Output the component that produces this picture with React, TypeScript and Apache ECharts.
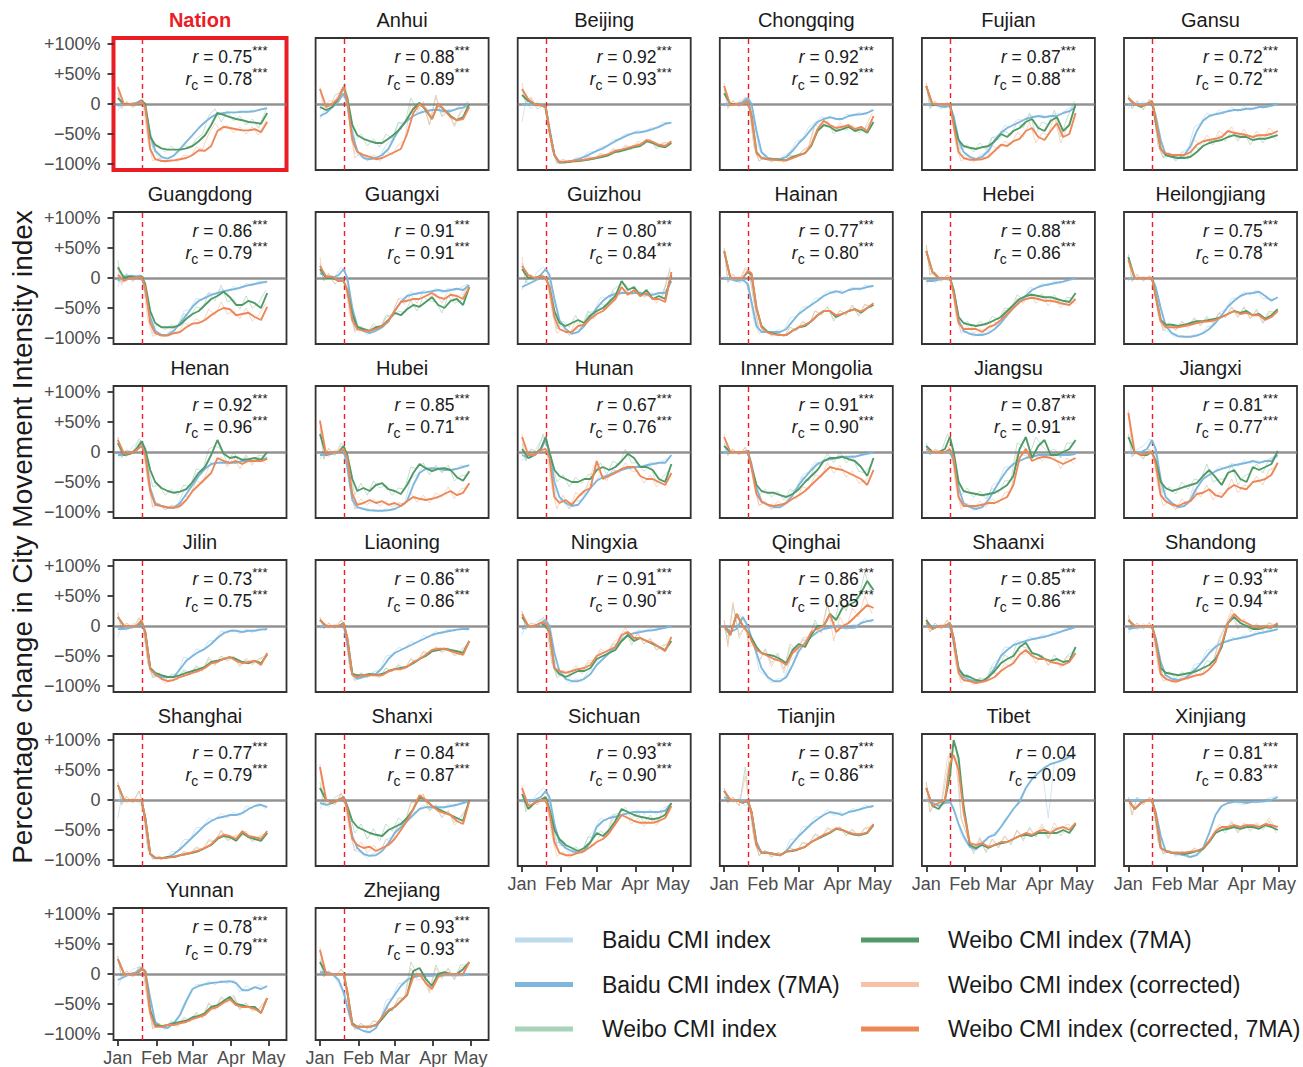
import React, { useEffect, useRef } from "react";
import * as echarts from "echarts";

// ---------- data ----------
const days = [0, 5, 10, 15, 19, 22, 26, 30, 35, 40, 45, 50, 55, 60, 65, 70, 75, 80, 85, 90, 95, 100, 105, 110, 115, 120];
const rawDays = [0, 3, 7, 12, 17, 20, 24, 28, 33, 38, 43, 48, 53, 58, 63, 68, 73, 78, 83, 88, 93, 98, 103, 108, 113, 119];
const monthTicks = [0, 31, 60, 91, 121];
const monthLabels = ["Jan", "Feb", "Mar", "Apr", "May"];
const yTicks = [-100, -50, 0, 50, 100];
const yTickLabels = ["\u2212100%", "\u221250%", "0", "+50%", "+100%"];
const lockdownDay = 19.5;

const provinces = [
  "Nation", "Anhui", "Beijing", "Chongqing", "Fujian", "Gansu",
  "Guangdong", "Guangxi", "Guizhou", "Hainan", "Hebei", "Heilongjiang",
  "Henan", "Hubei", "Hunan", "Inner Mongolia", "Jiangsu", "Jiangxi",
  "Jilin", "Liaoning", "Ningxia", "Qinghai", "Shaanxi", "Shandong",
  "Shanghai", "Shanxi", "Sichuan", "Tianjin", "Tibet", "Xinjiang",
  "Yunnan", "Zhejiang",
];
const rValues = ["0.75", "0.88", "0.92", "0.92", "0.87", "0.72", "0.86", "0.91", "0.80", "0.77", "0.88", "0.75", "0.92", "0.85", "0.67", "0.91", "0.87", "0.81", "0.73", "0.86", "0.91", "0.86", "0.85", "0.93", "0.77", "0.84", "0.93", "0.87", "0.04", "0.81", "0.78", "0.93"];
const rcValues = ["0.78", "0.89", "0.93", "0.92", "0.88", "0.72", "0.79", "0.91", "0.84", "0.80", "0.86", "0.78", "0.96", "0.71", "0.76", "0.90", "0.91", "0.77", "0.75", "0.86", "0.90", "0.85", "0.86", "0.94", "0.79", "0.87", "0.90", "0.86", "0.09", "0.83", "0.79", "0.93"];
const significant = provinces.map((p) => p !== "Tibet");

const seriesNames = [
  "Baidu CMI index",
  "Baidu CMI index (7MA)",
  "Weibo CMI index",
  "Weibo CMI index (7MA)",
  "Weibo CMI index (corrected)",
  "Weibo CMI index (corrected, 7MA)",
];

const baidu7ma: number[][] = [
  [-3,0,0,2,6,-5,-50,-78,-88,-91,-86,-75,-63,-52,-40,-30,-22,-17,-15,-14,-14,-13,-13,-12,-9,-7],
  [-20,-15,-5,5,18,0,-50,-78,-90,-92,-90,-85,-75,-55,-38,-28,-20,-15,-12,-10,-10,-12,-12,-8,-6,0],
  [0,0,0,0,-5,-40,-85,-98,-97,-95,-92,-88,-83,-78,-74,-68,-62,-57,-52,-48,-47,-45,-42,-38,-33,-31],
  [0,0,0,3,10,0,-45,-80,-90,-92,-92,-88,-78,-65,-55,-42,-30,-25,-22,-25,-25,-20,-18,-17,-15,-10],
  [0,0,-3,-5,-3,-20,-60,-80,-88,-92,-88,-78,-60,-48,-40,-35,-30,-25,-22,-20,-22,-20,-20,-15,-12,-5],
  [0,0,0,0,3,-20,-60,-85,-88,-90,-85,-70,-45,-28,-20,-17,-15,-12,-10,-10,-8,-8,-5,-5,-3,0],
  [-5,3,3,3,2,-20,-65,-88,-95,-95,-88,-75,-62,-48,-38,-33,-28,-25,-22,-20,-18,-15,-12,-10,-8,-6],
  [8,3,0,5,15,0,-50,-80,-88,-92,-88,-82,-72,-55,-40,-30,-27,-25,-24,-22,-20,-22,-20,-18,-20,-12],
  [-15,-10,-5,5,15,5,-35,-70,-85,-93,-90,-80,-65,-50,-38,-30,-27,-25,-25,-25,-25,-28,-28,-25,-25,-5],
  [0,-2,-5,-3,-10,-40,-80,-90,-90,-90,-90,-85,-72,-60,-52,-45,-38,-30,-25,-22,-25,-20,-18,-18,-15,-13],
  [-5,-5,-3,0,0,-20,-70,-88,-93,-95,-95,-92,-85,-75,-62,-50,-40,-30,-20,-15,-12,-10,-8,-6,-3,0],
  [0,0,0,0,0,-15,-50,-80,-92,-97,-98,-98,-96,-92,-85,-75,-62,-48,-38,-30,-26,-25,-23,-30,-38,-32],
  [-5,-5,-3,5,15,0,-60,-85,-90,-93,-93,-85,-70,-55,-40,-28,-20,-18,-18,-18,-18,-15,-15,-15,-13,-10],
  [-5,-5,-3,0,3,-25,-80,-92,-95,-97,-98,-98,-97,-95,-90,-82,-55,-35,-28,-27,-28,-30,-30,-28,-25,-22],
  [-5,-10,-5,5,20,0,-50,-75,-85,-90,-88,-75,-60,-48,-42,-38,-33,-30,-27,-25,-25,-22,-20,-18,-18,-5],
  [0,0,0,0,2,-20,-60,-82,-88,-92,-92,-85,-72,-55,-42,-30,-20,-15,-12,-10,-8,-8,-8,-5,-3,-1],
  [0,0,0,0,0,-15,-60,-85,-92,-95,-92,-80,-62,-45,-30,-20,-15,-10,-8,-5,-5,-5,-5,-5,-5,-3],
  [0,0,0,5,20,5,-45,-75,-85,-92,-90,-80,-60,-45,-38,-32,-28,-25,-22,-20,-18,-15,-18,-15,-15,-5],
  [-5,-5,-3,0,3,-10,-70,-82,-85,-85,-85,-72,-58,-50,-43,-38,-30,-20,-12,-8,-8,-10,-8,-8,-6,-5],
  [0,0,0,0,3,-30,-80,-88,-85,-82,-80,-70,-55,-45,-40,-35,-30,-25,-20,-15,-12,-10,-8,-6,-5,-5],
  [-5,0,0,5,10,0,-45,-75,-88,-92,-92,-88,-80,-65,-55,-45,-35,-25,-15,-12,-10,-8,-7,-5,-3,0],
  [0,-10,-5,15,0,-20,-45,-70,-85,-92,-92,-85,-65,-42,-28,-18,-10,-5,-3,0,-3,-3,-3,5,8,10],
  [0,0,0,0,0,-25,-70,-85,-90,-92,-92,-85,-70,-50,-40,-32,-28,-25,-22,-20,-18,-15,-12,-8,-5,-2],
  [-5,-3,-2,0,0,-20,-60,-82,-88,-90,-88,-80,-70,-58,-45,-35,-28,-25,-22,-20,-18,-15,-12,-10,-8,-5],
  [0,0,0,0,-3,-30,-90,-97,-97,-96,-90,-82,-72,-62,-52,-42,-35,-30,-28,-25,-25,-22,-15,-10,-8,-12],
  [-5,-8,-5,0,5,-15,-60,-80,-90,-93,-92,-85,-72,-55,-45,-35,-25,-15,-12,-12,-12,-12,-10,-8,-5,-2],
  [0,0,0,5,15,5,-40,-70,-80,-85,-88,-85,-70,-45,-35,-30,-28,-25,-22,-20,-20,-20,-20,-20,-18,-5],
  [5,0,0,0,-5,-20,-70,-88,-88,-90,-92,-85,-72,-60,-50,-40,-32,-25,-20,-22,-25,-20,-18,-15,-12,-10],
  [0,-5,-10,-5,-3,-15,-40,-60,-78,-82,-72,-62,-58,-45,-30,-15,-3,20,35,45,54,60,63,67,72,76],
  [0,0,0,0,0,-20,-60,-85,-88,-90,-92,-95,-92,-80,-55,-25,-10,-5,-3,-3,-5,-3,-3,-2,0,5],
  [-10,-5,0,3,10,5,-40,-80,-88,-90,-82,-68,-45,-25,-20,-17,-15,-14,-13,-12,-15,-27,-27,-22,-25,-20],
  [3,3,0,-10,-30,-55,-85,-90,-95,-97,-90,-70,-50,-35,-20,-10,-5,-3,-3,-3,-2,-2,-2,-2,-2,0],
];

const weibo7ma: number[][] = [
  [10,0,0,0,6,0,-55,-68,-74,-76,-76,-76,-74,-70,-62,-52,-35,-15,-18,-22,-25,-27,-30,-31,-33,-15],
  [-5,-10,-5,10,28,10,-35,-52,-58,-62,-65,-65,-58,-50,-40,-25,-8,2,-10,-25,0,-10,-20,-27,-22,0],
  [15,5,0,-2,-5,-45,-85,-97,-97,-96,-95,-94,-92,-90,-88,-85,-80,-78,-75,-72,-70,-62,-65,-70,-72,-65],
  [18,0,0,0,5,-20,-80,-90,-92,-92,-93,-94,-88,-85,-82,-70,-45,-35,-38,-45,-42,-38,-45,-42,-48,-30],
  [30,-2,0,0,0,-30,-60,-70,-73,-75,-72,-70,-62,-50,-55,-45,-40,-30,-25,-40,-45,-28,-22,-45,-35,0],
  [10,0,-5,0,5,-30,-75,-85,-88,-90,-90,-88,-80,-70,-65,-62,-60,-55,-52,-55,-55,-60,-58,-58,-55,-52],
  [18,0,3,0,3,-10,-55,-75,-82,-82,-82,-78,-68,-60,-55,-45,-35,-30,-23,-32,-45,-45,-38,-42,-50,-25],
  [15,0,0,-5,-5,-20,-60,-82,-85,-88,-82,-80,-70,-58,-62,-52,-45,-48,-40,-32,-45,-50,-38,-35,-45,-15],
  [15,0,0,3,0,-15,-55,-75,-80,-75,-70,-75,-62,-55,-50,-40,-30,-5,-20,-15,-30,-20,-35,-30,-35,5],
  [45,0,0,0,10,5,-50,-80,-90,-93,-95,-95,-88,-82,-80,-72,-62,-55,-55,-65,-60,-55,-52,-58,-50,-45],
  [45,10,0,0,0,-20,-65,-75,-78,-80,-78,-75,-70,-65,-55,-45,-35,-30,-28,-30,-32,-32,-35,-38,-40,-25],
  [35,0,0,0,0,-30,-70,-78,-78,-80,-78,-75,-72,-72,-70,-68,-65,-60,-55,-58,-55,-62,-60,-68,-62,-52],
  [15,-5,-3,5,18,5,-30,-50,-60,-65,-68,-66,-62,-50,-35,-25,-5,20,-3,-10,-8,-13,-12,-10,-13,0],
  [30,-5,0,0,10,-5,-45,-65,-60,-65,-55,-52,-62,-65,-70,-55,-35,-20,-27,-32,-28,-27,-30,-42,-48,-32],
  [5,-10,-5,5,25,0,-30,-40,-45,-50,-50,-45,-45,-30,-25,-30,-25,-15,-3,-10,-25,-25,-30,-45,-50,-20],
  [10,0,0,0,0,-25,-55,-65,-68,-68,-72,-75,-70,-62,-50,-40,-30,-15,-10,-10,-8,-12,-15,-25,-40,-10],
  [10,0,0,5,25,0,-50,-65,-68,-70,-72,-70,-68,-62,-55,-40,5,25,-10,10,20,-5,-5,0,5,20],
  [25,0,-5,-5,0,-15,-50,-60,-65,-62,-58,-55,-52,-40,-30,-42,-55,-35,-30,-45,-50,-25,-30,-25,-20,2],
  [15,0,0,0,8,-10,-70,-78,-82,-85,-85,-82,-78,-75,-72,-68,-60,-58,-55,-52,-55,-60,-62,-58,-62,-48],
  [10,0,0,0,5,-20,-80,-82,-82,-80,-82,-80,-75,-72,-70,-68,-62,-55,-50,-42,-40,-38,-40,-42,-45,-25],
  [15,0,0,5,0,-10,-70,-80,-85,-80,-75,-75,-70,-55,-50,-45,-40,-25,-15,-25,-20,-25,-30,-35,-40,-25],
  [0,-15,20,0,-10,-20,-35,-45,-48,-50,-55,-62,-40,-30,-35,-15,0,0,20,10,30,35,40,55,75,60],
  [10,-5,0,0,5,-20,-72,-82,-85,-90,-92,-85,-75,-62,-55,-50,-35,-28,-45,-48,-55,-58,-55,-60,-58,-35],
  [10,0,0,0,0,-25,-70,-78,-80,-82,-80,-78,-75,-70,-65,-55,-35,5,15,5,0,-5,-5,-2,-3,3],
  [25,0,0,0,0,-30,-90,-96,-97,-95,-95,-92,-90,-88,-85,-80,-75,-65,-60,-62,-68,-55,-62,-65,-68,-55],
  [20,0,-5,0,5,-10,-35,-45,-50,-55,-58,-60,-50,-45,-40,-30,-15,5,0,-10,-15,-20,-25,-30,-35,0],
  [10,-15,-5,0,5,-15,-50,-65,-75,-80,-85,-80,-70,-55,-60,-50,-35,-15,-20,-25,-28,-30,-32,-30,-25,-5],
  [15,0,0,-5,0,-20,-75,-88,-88,-90,-92,-86,-85,-82,-78,-70,-65,-60,-55,-48,-50,-55,-58,-58,-55,-42],
  [20,-10,-15,0,40,100,70,-10,-75,-80,-75,-80,-75,-72,-70,-65,-60,-58,-60,-55,-55,-55,-55,-50,-55,-40],
  [0,-15,-5,0,0,-25,-80,-85,-88,-88,-90,-88,-85,-82,-70,-55,-50,-48,-45,-48,-45,-45,-48,-42,-45,-50],
  [25,0,0,0,8,5,-60,-85,-87,-85,-82,-80,-78,-72,-70,-65,-55,-52,-45,-38,-50,-52,-55,-55,-65,-40],
  [20,0,0,0,0,-30,-82,-88,-88,-88,-85,-75,-62,-55,-45,-35,5,10,-8,-20,0,3,0,0,8,20],
];

const corrected7ma: number[][] = [
  [28,-1,0,0,5,-5,-75,-92,-95,-95,-94,-92,-90,-85,-77,-78,-70,-45,-38,-40,-42,-44,-44,-42,-47,-30],
  [25,-5,0,10,28,5,-60,-80,-85,-88,-92,-90,-85,-80,-75,-50,-15,0,-8,-25,0,-10,-22,-27,-25,-5],
  [25,8,0,-2,-5,-45,-85,-97,-96,-95,-94,-93,-91,-89,-86,-83,-78,-76,-73,-70,-68,-60,-63,-68,-70,-62],
  [30,-2,0,0,5,-20,-82,-90,-92,-93,-94,-94,-90,-86,-82,-68,-42,-28,-35,-40,-38,-35,-42,-38,-45,-20],
  [30,0,0,0,0,-35,-80,-90,-93,-93,-92,-88,-78,-68,-70,-62,-58,-45,-40,-55,-60,-45,-32,-55,-50,-15],
  [10,0,-3,0,5,-25,-75,-82,-85,-85,-85,-80,-68,-62,-60,-58,-55,-45,-48,-50,-52,-55,-52,-52,-50,-45],
  [5,-5,0,0,2,-15,-75,-92,-96,-96,-92,-90,-82,-76,-75,-70,-62,-55,-50,-52,-62,-60,-58,-65,-70,-48],
  [20,2,2,-5,-5,-20,-70,-85,-88,-88,-85,-80,-72,-55,-40,-38,-35,-35,-30,-25,-32,-35,-28,-30,-35,-15],
  [20,5,0,3,0,-15,-65,-85,-90,-90,-80,-78,-68,-60,-55,-45,-35,-15,-28,-20,-30,-25,-35,-35,-40,10],
  [45,0,0,0,12,8,-50,-82,-91,-94,-95,-95,-88,-82,-78,-72,-62,-55,-55,-62,-60,-55,-52,-56,-50,-42],
  [45,10,0,0,0,-25,-75,-85,-85,-85,-90,-82,-78,-70,-60,-50,-40,-35,-33,-35,-38,-38,-40,-43,-45,-35],
  [30,0,0,0,0,-30,-72,-82,-82,-82,-80,-78,-75,-73,-72,-70,-65,-60,-55,-60,-58,-62,-62,-70,-65,-55],
  [20,-3,-2,3,10,-5,-65,-88,-90,-92,-93,-90,-80,-65,-55,-45,-35,-10,-15,-18,-15,-20,-15,-15,-15,-12],
  [52,-5,0,0,5,-10,-70,-88,-85,-80,-85,-82,-88,-85,-90,-82,-75,-78,-80,-78,-75,-70,-65,-72,-68,-52],
  [25,-5,-5,3,5,-10,-75,-85,-80,-88,-75,-65,-60,-15,-45,-40,-35,-28,-25,-25,-40,-45,-45,-50,-55,-35],
  [25,0,0,0,0,-25,-70,-83,-88,-90,-88,-85,-78,-72,-65,-55,-45,-35,-25,-28,-30,-35,-40,-45,-55,-30],
  [5,0,0,0,5,-10,-75,-90,-90,-90,-88,-85,-85,-80,-75,-55,-10,5,-15,-10,-8,-10,-15,-20,-15,-10],
  [65,0,-5,-3,0,-20,-72,-82,-88,-90,-85,-82,-70,-68,-62,-72,-75,-62,-55,-60,-62,-50,-48,-45,-38,-18],
  [15,0,0,0,10,-10,-72,-80,-88,-92,-90,-85,-82,-78,-75,-70,-62,-60,-55,-52,-58,-62,-60,-58,-65,-45],
  [10,0,0,0,5,-20,-82,-85,-82,-82,-82,-82,-76,-72,-72,-68,-60,-55,-48,-40,-38,-38,-42,-45,-48,-25],
  [20,0,0,5,5,-10,-70,-75,-78,-75,-72,-70,-65,-50,-45,-40,-35,-15,-10,-20,-20,-25,-28,-35,-42,-18],
  [0,-15,20,0,-10,-25,-40,-45,-50,-55,-58,-65,-45,-35,-30,-10,-5,0,20,-10,0,5,15,25,35,30],
  [5,-5,0,0,5,-20,-78,-90,-92,-95,-93,-90,-85,-75,-68,-62,-48,-40,-50,-55,-55,-60,-62,-65,-60,-45],
  [10,0,0,0,0,-25,-80,-88,-92,-92,-88,-85,-82,-80,-72,-60,-30,5,20,10,5,0,-3,0,-2,5],
  [25,0,0,0,0,-30,-90,-96,-97,-96,-95,-92,-90,-87,-84,-80,-74,-63,-58,-60,-65,-52,-60,-62,-65,-52],
  [55,0,-5,0,5,-15,-65,-75,-80,-78,-85,-80,-75,-65,-50,-35,-15,8,0,-10,-18,-22,-25,-35,-40,-2],
  [20,-10,-5,0,0,-20,-70,-88,-92,-92,-88,-85,-78,-70,-65,-55,-40,-25,-30,-35,-38,-38,-38,-35,-30,-10],
  [15,0,0,-5,0,-20,-75,-88,-88,-90,-92,-86,-84,-82,-78,-70,-64,-58,-54,-47,-50,-54,-57,-57,-54,-40],
  [20,-10,-5,0,60,75,50,-20,-72,-75,-72,-78,-75,-70,-70,-65,-60,-55,-58,-52,-50,-55,-48,-45,-50,-38],
  [0,-15,-5,0,0,-25,-80,-85,-88,-88,-88,-86,-85,-80,-68,-52,-45,-45,-42,-45,-42,-42,-45,-40,-42,-45],
  [25,0,0,0,8,5,-65,-88,-88,-85,-85,-82,-80,-75,-72,-68,-58,-55,-48,-42,-52,-55,-55,-58,-65,-40],
  [40,0,0,0,0,-30,-85,-88,-88,-88,-85,-72,-60,-55,-45,-35,-5,0,-15,-25,-5,0,0,0,0,20],
];

const baiduRaw: number[][] = [
  [-12,-2,2,-3,4,3,-30,-75,-90,-92,-88,-80,-66,-55,-45,-33,-25,-16,-18,-12,-16,-11,-15,-10,-11,-6],
  [-25,-12,-10,0,12,15,-30,-82,-88,-94,-86,-88,-68,-60,-32,-30,-15,-18,-8,-12,-6,-15,-9,-10,-2,2],
  [-30,5,-8,3,-2,-10,-75,-99,-95,-97,-90,-90,-80,-80,-72,-70,-60,-58,-50,-50,-44,-47,-40,-40,-30,-32],
  [-5,3,-3,5,8,5,-30,-75,-92,-90,-94,-86,-80,-62,-58,-38,-32,-22,-25,-22,-28,-17,-20,-14,-17,-8],
  [3,-4,0,-8,0,-5,-50,-85,-86,-94,-86,-80,-56,-52,-36,-38,-26,-27,-18,-22,-18,-23,-16,-17,-9,-3],
  [-8,5,-3,4,0,-5,-45,-88,-85,-93,-80,-75,-38,-32,-15,-20,-10,-15,-5,-13,-4,-11,-2,-8,0,2],
  [-15,6,0,6,-2,-5,-50,-92,-92,-97,-85,-80,-55,-52,-34,-36,-24,-28,-18,-23,-14,-18,-9,-13,-5,-8],
  [12,-2,5,2,18,10,-30,-85,-85,-95,-85,-85,-66,-60,-35,-33,-23,-28,-20,-25,-17,-25,-17,-21,-16,-10],
  [-20,-6,-10,10,18,12,-25,-78,-82,-96,-86,-84,-58,-55,-33,-33,-24,-28,-22,-28,-22,-31,-24,-28,-22,-2],
  [3,-6,0,-8,-5,-25,-72,-93,-86,-93,-86,-88,-66,-64,-48,-48,-34,-33,-21,-26,-21,-23,-15,-21,-12,-15],
  [-12,0,-8,3,-4,-5,-55,-92,-90,-97,-92,-95,-80,-78,-58,-54,-36,-34,-16,-18,-9,-13,-5,-9,-1,1],
  [-5,4,-3,3,-2,-5,-35,-86,-90,-99,-96,-99,-94,-94,-82,-78,-58,-52,-34,-33,-23,-28,-20,-34,-35,-34],
  [-10,-2,-8,10,18,12,-40,-90,-87,-96,-90,-88,-65,-60,-35,-32,-16,-21,-15,-21,-15,-18,-12,-18,-10,-12],
  [-12,0,-8,4,0,-5,-60,-95,-93,-99,-96,-99,-95,-97,-86,-86,-45,-38,-24,-30,-25,-33,-27,-31,-22,-25],
  [-15,-8,-12,8,25,10,-30,-80,-82,-95,-82,-80,-55,-52,-38,-41,-30,-33,-24,-28,-22,-25,-17,-21,-15,-8],
  [5,-3,4,-3,0,-5,-45,-88,-85,-95,-88,-88,-68,-60,-38,-33,-17,-18,-9,-13,-5,-11,-5,-8,0,-3],
  [3,-4,2,-3,2,-3,-45,-90,-88,-98,-88,-84,-56,-50,-25,-24,-12,-13,-5,-8,-3,-8,-2,-8,-2,-5],
  [3,-4,4,10,22,15,-28,-80,-82,-96,-86,-86,-52,-50,-33,-36,-24,-28,-18,-24,-14,-19,-14,-18,-12,-8],
  [-18,0,-8,4,0,2,-55,-86,-82,-89,-82,-78,-52,-55,-38,-42,-25,-24,-8,-12,-5,-13,-5,-11,-3,-8],
  [-5,3,-3,3,0,-10,-70,-92,-82,-86,-76,-74,-50,-48,-36,-38,-26,-28,-16,-18,-9,-13,-5,-9,-3,-8],
  [-15,3,-4,8,12,8,-30,-80,-85,-96,-88,-92,-76,-70,-50,-48,-30,-28,-12,-15,-7,-10,-4,-8,0,-2],
  [-5,-18,0,20,5,-10,-30,-75,-82,-95,-88,-88,-58,-48,-22,-22,-5,-9,2,-4,3,-7,2,2,12,6],
  [-3,3,-3,3,2,-10,-55,-90,-86,-96,-88,-90,-64,-56,-35,-36,-24,-28,-18,-23,-14,-18,-8,-11,-2,-4],
  [-12,0,-6,4,-3,-5,-45,-86,-85,-94,-84,-85,-64,-62,-40,-38,-24,-28,-18,-23,-14,-18,-8,-13,-5,-8],
  [-30,5,-5,3,-6,-12,-80,-99,-95,-98,-86,-86,-66,-66,-46,-46,-30,-34,-22,-30,-20,-27,-10,-14,-5,-15],
  [-15,-2,-12,5,10,0,-45,-85,-87,-97,-88,-90,-66,-62,-38,-40,-20,-20,-8,-16,-8,-16,-6,-12,-2,-5],
  [-5,4,-4,10,20,15,-25,-75,-76,-90,-84,-88,-62,-50,-30,-34,-24,-28,-18,-24,-16,-24,-16,-24,-14,-8],
  [0,5,-4,3,-10,-5,-55,-93,-85,-94,-88,-90,-66,-64,-45,-44,-28,-28,-16,-26,-20,-24,-14,-18,-8,-13],
  [5,-5,-12,-2,-6,-5,-28,-58,-75,-85,-70,-66,-56,-52,-32,-22,-5,12,30,42,52,-30,62,65,70,78],
  [3,-5,4,-3,2,-5,-45,-88,-85,-94,-88,-97,-90,-88,-65,-35,-12,-8,-2,-5,-8,-3,-5,0,3,6],
  [-20,-8,-2,8,12,10,-25,-85,-85,-93,-82,-76,-50,-32,-17,-20,-12,-18,-10,-16,-10,-30,-20,-26,-18,-24],
  [8,0,5,-5,-25,-40,-75,-92,-92,-99,-86,-80,-44,-40,-16,-14,-2,-6,0,-5,0,-5,0,-4,0,-2],
];

const weiboRaw: number[][] = [
  [18,-5,4,-6,3,8,-35,-72,-70,-80,-70,-82,-68,-74,-58,-50,-20,-8,-30,-12,-28,-20,-35,-25,-40,-10],
  [-10,-2,-12,15,20,35,-10,-60,-50,-70,-58,-72,-50,-58,-30,-35,10,-10,0,-35,15,-20,-10,-35,-12,5],
  [25,0,10,-8,-2,-20,-75,-98,-92,-98,-93,-96,-88,-92,-84,-88,-76,-82,-70,-76,-65,-68,-60,-75,-66,-68],
  [25,-5,5,-4,10,-5,-70,-95,-88,-96,-90,-97,-85,-88,-78,-72,-35,-40,-30,-50,-36,-44,-38,-48,-42,-25],
  [35,-8,4,-6,2,-10,-50,-76,-68,-80,-65,-76,-55,-60,-45,-52,-30,-40,-15,-50,-30,-35,-10,-55,-25,5],
  [15,-8,5,-10,8,-10,-70,-90,-84,-95,-86,-92,-72,-75,-58,-68,-52,-62,-45,-62,-48,-68,-50,-65,-48,-60],
  [30,-8,8,-5,6,0,-45,-82,-78,-86,-78,-82,-60,-65,-48,-52,-25,-38,-12,-40,-35,-52,-30,-50,-42,-20],
  [25,-5,6,-10,0,-10,-50,-88,-80,-92,-76,-85,-62,-65,-55,-58,-38,-55,-32,-38,-40,-58,-30,-42,-38,-10],
  [25,-8,6,-5,5,-5,-45,-85,-72,-82,-62,-82,-55,-62,-42,-48,-20,-12,-10,-25,-20,-28,-28,-38,-28,15],
  [50,-8,6,-6,15,10,-40,-86,-86,-96,-90,-98,-82,-88,-74,-78,-55,-62,-48,-72,-54,-62,-45,-64,-44,-50],
  [55,5,10,-6,5,-5,-55,-82,-72,-86,-72,-80,-64,-70,-50,-52,-28,-36,-22,-36,-26,-40,-28,-45,-32,-35],
  [40,-6,6,-5,4,-10,-60,-84,-74,-86,-72,-80,-66,-78,-64,-74,-58,-66,-48,-64,-48,-68,-52,-74,-55,-58],
  [25,-10,3,-2,22,15,-20,-58,-55,-72,-62,-72,-55,-58,-28,-32,5,10,5,-18,0,-20,-5,-18,-5,-8],
  [40,-12,6,-6,15,5,-30,-72,-52,-72,-48,-60,-55,-72,-60,-62,-25,-28,-18,-38,-22,-35,-22,-48,-40,-38],
  [15,-15,5,0,30,10,-15,-50,-38,-58,-42,-52,-38,-35,-18,-38,-15,-22,5,-18,-18,-32,-22,-52,-42,-28],
  [15,-6,5,-5,8,-10,-40,-72,-62,-75,-65,-80,-62,-68,-42,-48,-22,-20,-2,-18,0,-18,-8,-32,-35,-18],
  [15,-5,5,0,30,15,-35,-72,-60,-76,-65,-78,-60,-68,-48,-48,15,10,-5,25,10,0,5,-10,15,15],
  [30,-8,0,-12,5,-5,-40,-68,-58,-70,-50,-62,-45,-48,-20,-50,-45,-45,-20,-55,-40,-35,-20,-35,-12,-5],
  [22,-5,5,-4,12,5,-60,-84,-78,-90,-80,-86,-72,-80,-66,-74,-52,-64,-50,-58,-50,-66,-56,-64,-55,-50],
  [15,-5,5,-4,10,0,-70,-88,-78,-85,-78,-86,-70,-76,-64,-72,-56,-60,-44,-48,-36,-44,-36,-48,-40,-30],
  [25,-6,5,0,10,-5,-60,-86,-80,-86,-70,-80,-62,-60,-42,-50,-32,-30,-8,-32,-12,-30,-22,-40,-32,-30],
  [10,-30,35,-15,0,-30,-25,-60,-38,-62,-45,-72,-30,-40,-25,-22,10,-10,35,0,45,25,55,45,90,50],
  [15,-10,5,-5,10,-5,-62,-88,-80,-95,-86,-90,-68,-70,-48,-56,-28,-35,-38,-55,-48,-65,-48,-66,-50,-40],
  [18,-5,5,-5,6,-10,-62,-84,-76,-88,-76,-84,-70,-76,-58,-60,-25,0,20,-5,8,-10,2,-8,5,-2],
  [30,-8,6,-5,15,-5,-80,-98,-94,-98,-92,-95,-86,-90,-80,-84,-68,-70,-52,-68,-62,-62,-55,-70,-62,-60],
  [30,-8,0,-8,10,0,-25,-55,-40,-65,-48,-68,-40,-52,-30,-38,-5,-2,10,-18,-8,-28,-18,-38,-28,-10],
  [20,-20,0,-8,10,-5,-40,-72,-68,-86,-78,-86,-62,-62,-52,-58,-25,-22,-12,-32,-20,-38,-25,-38,-18,-12],
  [20,-5,5,-10,55,-5,-65,-92,-84,-95,-88,-90,-80,-86,-72,-74,-58,-64,-48,-52,-45,-60,-50,-62,-48,-46],
  [30,-20,-5,-10,50,90,90,-30,-60,-90,-65,-88,-65,-80,-60,-75,-50,-68,-45,-62,-45,-65,-45,-60,-45,-50],
  [5,-25,5,-8,5,-10,-70,-90,-84,-92,-86,-92,-80,-88,-72,-62,-45,-55,-38,-55,-40,-52,-40,-50,-35,-55],
  [30,-8,5,-5,12,10,-45,-90,-82,-90,-78,-86,-72,-78,-64,-72,-48,-58,-38,-45,-35,-58,-48,-60,-58,-45],
  [25,-5,5,-5,8,0,-70,-92,-82,-92,-78,-82,-55,-62,-40,-40,20,0,-2,-28,15,-5,10,-8,15,15],
];

const correctedRaw: number[][] = [
  [30,-8,5,-5,2,5,-60,-95,-90,-98,-92,-96,-85,-88,-72,-75,-50,-32,-45,-35,-48,-38,-50,-38,-52,-28],
  [28,-10,5,5,25,30,-40,-90,-80,-95,-85,-96,-78,-85,-68,-60,0,-15,5,-35,12,-22,-12,-38,-15,-2],
  [35,2,12,-5,0,-15,-75,-98,-93,-97,-92,-95,-87,-90,-82,-86,-74,-80,-68,-74,-62,-66,-58,-72,-64,-64],
  [35,-8,6,-5,12,-2,-72,-95,-88,-97,-91,-97,-87,-89,-77,-70,-30,-35,-28,-45,-32,-40,-35,-44,-40,-15],
  [35,-6,5,-5,3,-15,-70,-95,-88,-97,-86,-92,-70,-75,-62,-68,-48,-55,-30,-65,-48,-52,-20,-65,-40,-10],
  [15,-6,6,-8,8,-8,-70,-88,-80,-90,-80,-86,-60,-68,-52,-64,-45,-52,-38,-58,-42,-62,-45,-60,-40,-50],
  [15,-12,6,-6,5,-5,-68,-97,-93,-98,-88,-94,-75,-80,-68,-75,-52,-62,-40,-60,-55,-68,-50,-72,-62,-42],
  [35,-4,8,-10,0,-10,-60,-90,-84,-92,-80,-86,-66,-60,-34,-44,-28,-42,-22,-32,-26,-42,-20,-36,-28,-10],
  [35,-4,6,-4,5,-5,-55,-92,-85,-95,-72,-85,-62,-68,-48,-52,-25,-25,-20,-28,-22,-32,-28,-42,-30,18],
  [50,-6,6,-5,18,12,-40,-88,-87,-97,-90,-98,-82,-87,-72,-78,-55,-60,-48,-68,-54,-60,-46,-62,-44,-48],
  [55,5,10,-5,5,-8,-65,-90,-80,-92,-85,-88,-72,-76,-54,-56,-34,-42,-26,-42,-32,-46,-34,-50,-38,-42],
  [35,-5,6,-5,4,-10,-62,-88,-78,-88,-74,-84,-68,-80,-66,-76,-58,-66,-48,-66,-50,-68,-54,-76,-58,-60],
  [25,-8,4,-3,15,8,-50,-93,-85,-97,-88,-95,-75,-72,-48,-52,-25,-18,-8,-25,-8,-28,-8,-22,-8,-20],
  [55,-10,6,-5,10,5,-55,-95,-78,-88,-78,-90,-82,-92,-84,-88,-68,-84,-72,-85,-68,-76,-58,-78,-62,-58],
  [30,-12,5,-2,10,0,-60,-95,-72,-95,-68,-72,-52,-22,-38,-48,-28,-35,-18,-32,-32,-52,-38,-58,-48,-42],
  [30,-5,5,-5,8,-10,-55,-90,-82,-96,-82,-90,-72,-78,-58,-62,-38,-42,-18,-35,-22,-42,-32,-52,-48,-38],
  [10,-4,4,-3,10,2,-60,-96,-85,-96,-82,-92,-78,-86,-68,-65,0,-5,-8,-5,-15,-5,-8,-28,-10,-20],
  [70,-6,0,-10,5,-8,-60,-90,-82,-96,-78,-88,-62,-75,-55,-80,-68,-70,-45,-68,-55,-58,-40,-55,-30,-25],
  [22,-5,5,-4,14,5,-62,-86,-84,-96,-86,-90,-75,-82,-68,-76,-55,-66,-50,-58,-52,-68,-54,-64,-58,-48],
  [15,-5,5,-4,10,0,-72,-90,-78,-86,-78,-86,-70,-76,-66,-72,-54,-60,-42,-46,-34,-44,-38,-50,-44,-30],
  [25,-6,5,2,15,0,-62,-82,-74,-80,-66,-76,-58,-56,-38,-45,-28,-20,-2,-26,-12,-30,-20,-40,-35,-24],
  [10,-35,40,-20,0,-35,-30,-58,-40,-68,-48,-78,-35,-45,-20,-18,5,-12,40,-25,15,-5,30,15,50,20],
  [10,-10,5,-5,10,-5,-68,-95,-88,-98,-88,-94,-78,-80,-62,-68,-40,-48,-42,-62,-48,-66,-55,-70,-52,-50],
  [18,-5,5,-5,6,-10,-72,-92,-88,-96,-84,-90,-78,-84,-66,-66,-20,0,28,0,12,-6,4,-6,6,0],
  [30,-8,6,-5,15,-5,-80,-98,-94,-98,-92,-95,-86,-89,-78,-83,-66,-68,-50,-66,-60,-58,-52,-68,-60,-56],
  [60,-8,0,-8,12,-5,-55,-85,-70,-88,-75,-88,-65,-72,-40,-42,-5,0,10,-18,-10,-30,-18,-42,-32,-10],
  [25,-15,0,-8,5,-10,-60,-94,-86,-97,-82,-90,-72,-76,-58,-62,-32,-32,-22,-40,-30,-44,-32,-42,-25,-18],
  [20,-5,5,-10,40,-5,-65,-92,-84,-95,-88,-90,-79,-85,-70,-73,-56,-62,-46,-50,-44,-58,-48,-60,-46,-44],
  [30,-20,0,-5,70,80,60,-30,-62,-85,-62,-85,-65,-78,-60,-72,-50,-65,-48,-60,-40,-62,-38,-55,-40,-45],
  [5,-25,5,-8,5,-10,-70,-90,-84,-92,-85,-90,-80,-86,-70,-60,-40,-50,-35,-52,-38,-48,-38,-46,-30,-50],
  [30,-8,5,-5,12,10,-50,-92,-84,-90,-80,-88,-75,-80,-66,-74,-50,-60,-40,-48,-38,-60,-48,-62,-60,-42],
  [45,-5,5,-5,8,0,-72,-92,-82,-92,-78,-80,-55,-62,-40,-42,10,-10,-8,-32,10,-8,8,-10,10,15],
];

// ---------- styling ----------
const FONT = '"Liberation Sans", Arial, Helvetica, sans-serif';
const colors = ["#bcdcee", "#7db7dd", "#a9d3b8", "#4f9a66", "#f6c1a6", "#ec8757"];
const widths = [0.9, 1.9, 0.9, 1.9, 0.9, 1.9];
const opac = [0.8, 1, 0.75, 1, 0.75, 1];

const COL_X0 = 113.5;
const COL_STEP = 202.1;
const ROW_Y0 = 38;
const ROW_STEP = 174;
const PW = 173;
const PH = 132;

function buildOption() {
  const grids: any[] = [];
  const xAxes: any[] = [];
  const yAxes: any[] = [];
  const series: any[] = [];
  const graphics: any[] = [];
  const valueSets = [baiduRaw, baidu7ma, weiboRaw, weibo7ma, correctedRaw, corrected7ma];
  const isRaw = [true, false, true, false, true, false];

  const rich = {
    n: { fontSize: 17.5, lineHeight: 26, fontFamily: FONT, fill: "#1a1a1a" },
    i: { fontSize: 17.5, lineHeight: 26, fontStyle: "italic", fontFamily: FONT, fill: "#1a1a1a" },
    s: { fontSize: 13, lineHeight: 7, verticalAlign: "top", fontFamily: FONT, fill: "#1a1a1a" },
    c: { fontSize: 14, lineHeight: 13, verticalAlign: "bottom", fontFamily: FONT, fill: "#1a1a1a" },
  };

  provinces.forEach((name, i) => {
    const col = i % 6;
    const row = Math.floor(i / 6);
    const left = COL_X0 + COL_STEP * col;
    const top = ROW_Y0 + ROW_STEP * row;
    const isNation = i === 0;
    const showY = col === 0;
    const showX = i >= 26;

    grids.push({
      left, top, width: PW, height: PH, show: true,
      borderColor: isNation ? "#ea1d25" : "#333333",
      borderWidth: isNation ? 4 : 1.8,
      backgroundColor: "transparent",
      containLabel: false,
    });
    xAxes.push({
      gridIndex: i, type: "value", min: -3.5, max: 135.5,
      splitLine: { show: false },
      axisLine: { show: false, onZero: false },
      axisTick: { show: showX, customValues: monthTicks, length: 6, lineStyle: { color: "#333333", width: 1.8 } },
      axisLabel: {
        show: showX, customValues: monthTicks, margin: 9,
        formatter: (v: number) => monthLabels[monthTicks.indexOf(v)] ?? "",
        color: "#4d4d4d", fontSize: 18, fontFamily: FONT,
      },
    });
    yAxes.push({
      gridIndex: i, type: "value", min: -110, max: 110,
      splitLine: { show: false },
      axisLine: { show: false, onZero: false },
      axisTick: { show: showY, customValues: yTicks, length: 6, lineStyle: { color: "#333333", width: 1.8 } },
      axisLabel: {
        show: showY, customValues: yTicks, margin: 13,
        formatter: (v: number) => yTickLabels[yTicks.indexOf(v)] ?? "",
        color: "#4d4d4d", fontSize: 18, fontFamily: FONT,
      },
    });

    valueSets.forEach((set, s) => {
      const xs = isRaw[s] ? rawDays : days;
      const item: any = {
        name: seriesNames[s],
        type: "line",
        xAxisIndex: i,
        yAxisIndex: i,
        data: xs.map((d, k) => [d, set[i][k]]),
        showSymbol: false,
        symbol: "none",
        silent: true,
        z: isRaw[s] ? 3 : 4 + s,
        itemStyle: { color: colors[s] },
        lineStyle: { color: colors[s], width: widths[s], opacity: opac[s] },
        emphasis: { disabled: true },
        animation: false,
      };
      if (s === 0) {
        item.markLine = {
          silent: true,
          symbol: ["none", "none"],
          label: { show: false },
          animation: false,
          data: [
            { yAxis: 0, lineStyle: { color: "#7f7f7f", width: 2.6, type: "solid", opacity: 0.85 } },
            { xAxis: lockdownDay, lineStyle: { color: "#ee1c25", width: 1.4, type: [5, 4] } },
          ],
        };
      }
      series.push(item);
    });

    // panel title
    graphics.push({
      type: "text",
      x: left + PW / 2,
      y: top - 18,
      style: {
        text: name,
        align: "center",
        verticalAlign: "middle",
        fill: isNation ? "#ea1d25" : "#1a1a1a",
        fontSize: 20,
        fontWeight: isNation ? "bold" : "normal",
        fontFamily: isNation ? '"Liberation Sans Narrow", ' + FONT : FONT,
      },
      z: 100,
    });
    const stars = significant[i] ? "{s|***}" : "";
    graphics.push({
      type: "text",
      x: left + PW - 19,
      y: top + 19,
      style: { text: "{i|r}{n| = " + rValues[i] + "}" + stars, align: "right", verticalAlign: "middle", rich },
      z: 100,
    });
    graphics.push({
      type: "text",
      x: left + PW - 19,
      y: top + 41,
      style: { text: "{i|r}{c|c}{n| = " + rcValues[i] + "}" + stars, align: "right", verticalAlign: "middle", rich },
      z: 100,
    });
  });

  graphics.push({
    type: "text",
    x: 22,
    y: 537,
    rotation: Math.PI / 2,
    style: {
      text: "Percentage change in City Movement Intensity index",
      align: "center",
      verticalAlign: "middle",
      fill: "#1a1a1a",
      fontSize: 28,
      fontFamily: FONT,
    },
  });

  const legendBase = {
    orient: "vertical",
    top: 927,
    padding: 0,
    itemWidth: 58,
    itemHeight: 5,
    itemGap: 18.5,
    icon: "rect",
    selectedMode: false,
    textStyle: { fontSize: 23, color: "#1a1a1a", fontFamily: FONT, lineHeight: 26, padding: [0, 0, 0, 24] },
  };

  return {
    animation: false,
    backgroundColor: "#ffffff",
    grid: grids,
    xAxis: xAxes,
    yAxis: yAxes,
    series,
    legend: [
      { ...legendBase, left: 515, data: seriesNames.slice(0, 3) },
      { ...legendBase, left: 861, data: seriesNames.slice(3) },
    ],
    graphic: graphics,
  };
}

export default function App() {
  const ref = useRef<HTMLDivElement>(null);
  useEffect(() => {
    if (!ref.current) return;
    const chart = echarts.init(ref.current, undefined, { renderer: "svg" });
    chart.setOption(buildOption() as any);
    return () => chart.dispose();
  }, []);
  return (
    <div
      ref={ref}
      style={{ position: "absolute", left: 0, top: 0, width: 1303, height: 1067, background: "#fff" }}
    />
  );
}
